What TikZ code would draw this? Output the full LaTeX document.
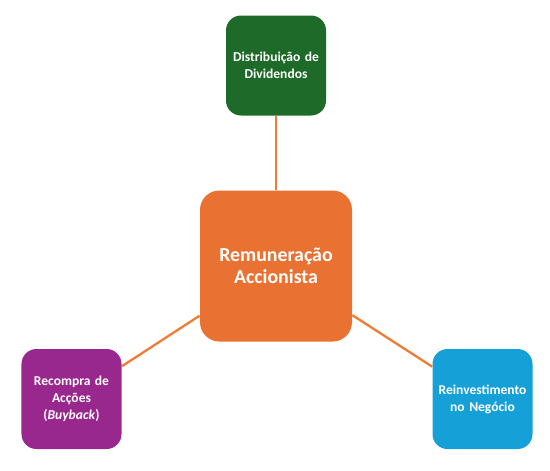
\documentclass[tikz,border=0pt]{standalone}
\usepackage{fontspec}
\setmainfont{Carlito}
\usetikzlibrary{positioning}

\definecolor{divgreen}{RGB}{30,106,40}
\definecolor{remorange}{RGB}{233,114,50}
\definecolor{buypurple}{RGB}{152,40,142}
\definecolor{reiblue}{RGB}{22,160,216}
\definecolor{linkorange}{RGB}{238,124,52}

\begin{document}
\begin{tikzpicture}[
    link/.style={%
      draw=linkorange,
      line width=1.3pt,
    },
  ]

\tikzstyle{small} = [rectangle, rounded corners=8.5pt, minimum width=2cm, minimum height=2cm, text width=1.95cm, align=center, text=white, font=\bfseries\fontsize{7.7}{9.6}\selectfont, inner sep=0pt]

\tikzstyle{big} = [rectangle, rounded corners=11pt, minimum width=3.04cm, minimum height=3.02cm, text width=2.8cm, align=center, text=white, fill=remorange, font=\bfseries\fontsize{11.3}{12.5}\selectfont, inner sep=0pt]

    \useasboundingbox (0,0) rectangle (11,-9.4);

    \node [big] (R) at (5.52,-5.32) {Remuneração\\Accionista};
    \node [small, fill=divgreen] (D) at (5.52,-1.31) {Distribuição de\\Dividendos};
    \node [small, fill=buypurple] (B) at (1.43,-7.98) {Recompra de\\Acções\\(\textit{Buyback})};
    \node [small, fill=reiblue] (I) at (9.65,-7.98) {Reinvestimento\\no Negócio};

    \draw [link] (R) -- (D);
    \draw [link] (R) -- (B);
    \draw [link] (R) -- (I);
\end{tikzpicture}
\end{document}
